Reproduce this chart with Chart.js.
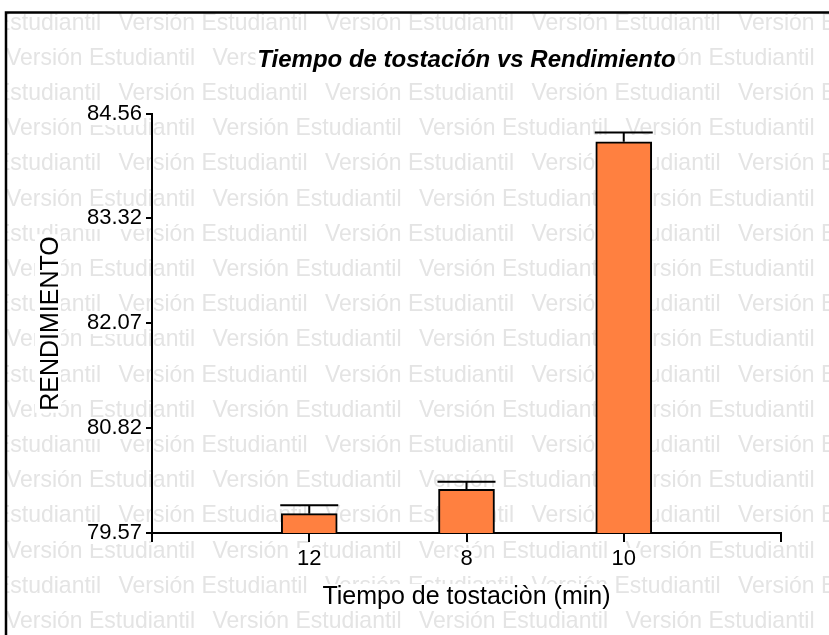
<!DOCTYPE html>
<html lang="es">
<head>
    <meta charset="UTF-8">
    <title>Tiempo de tostación vs Rendimiento</title>
    <script src="https://cdn.jsdelivr.net/npm/chart.js@4"></script>
    <style>
        html, body { margin: 0; padding: 0; background: #fff; }
        #wrap { width: 829px; height: 635px; position: relative; }
    </style>
</head>
<body>
    <div id="wrap"><canvas id="myChart"></canvas></div>

    <script>
        // data
        const tiempos = ['12', '8', '10'];
        const rendimiento = [79.80, 80.09, 84.23];
        const errores = [0.10, 0.09, 0.11];
        const yTicks = [79.57, 80.82, 82.07, 83.32, 84.56];

        const TITULO = 'Tiempo de tostación vs Rendimiento';
        const TITULO_X = 'Tiempo de tostaciòn (min)';
        const TITULO_Y = 'RENDIMIENTO';

        const FONT = "'Liberation Sans', Arial, sans-serif";

        // empty slot on each side so the bars sit like in the original plot
        const labels = [''].concat(tiempos, ['']);
        const values = [null].concat(rendimiento, [null]);
        const errs = [null].concat(errores, [null]);

        // grey watermark + outer frame + title
        const fondo = {
            id: 'fondo',
            beforeDraw(chart) {
                const ctx = chart.ctx;
                const area = chart.chartArea;
                const sx = chart.scales.x, sy = chart.scales.y;
                ctx.save();
                ctx.fillStyle = '#fff';
                ctx.fillRect(0, 0, chart.width, chart.height);
                ctx.fillStyle = 'rgb(228,228,228)';
                ctx.font = '24px ' + FONT;
                ctx.textBaseline = 'middle';
                ctx.textAlign = 'left';
                ctx.beginPath();
                ctx.rect(7, 13, chart.width, chart.height);
                ctx.clip();
                for (let i = 0; i < 19; i++) {
                    const y = 23 + i * 35.2;
                    const shift = i % 2 === 0 ? -88 : 6;
                    for (let k = 0; k < 6; k++) {
                        ctx.fillText('Versión Estudiantil', shift + k * 206.5, y, 189);
                    }
                }

                // white boxes behind every text, as in the original export
                ctx.fillStyle = '#fff';
                const caja = (cx, cy, w, h) => ctx.fillRect(cx - w / 2, cy - h / 2, w, h);
                ctx.font = 'italic bold 24px ' + FONT;
                caja((area.left + area.right) / 2, 60, ctx.measureText(TITULO).width + 4, 26);
                ctx.font = '25px ' + FONT;
                caja((area.left + area.right) / 2, 597, ctx.measureText(TITULO_X).width + 4, 26);
                caja(48, (area.top + area.bottom) / 2, 26, ctx.measureText(TITULO_Y).width + 4);
                ctx.font = '22px ' + FONT;
                yTicks.forEach(v => {
                    const w = ctx.measureText(v.toFixed(2)).width + 4;
                    caja(142 - w / 2 + 2, sy.getPixelForValue(v), w, 22);
                });
                labels.forEach((l, i) => {
                    if (!l) return;
                    caja(sx.getPixelForTick(i), 559, ctx.measureText(l).width + 4, 22);
                });
                ctx.restore();

                ctx.save();
                ctx.strokeStyle = '#000';
                ctx.lineWidth = 2.5;
                ctx.beginPath();
                ctx.moveTo(6, chart.height + 5);
                ctx.lineTo(6, 12.5);
                ctx.lineTo(chart.width + 5, 12.5);
                ctx.stroke();
                ctx.restore();
            },
            afterDraw(chart) {
                const ctx = chart.ctx;
                const area = chart.chartArea;
                ctx.save();
                ctx.fillStyle = '#000';
                ctx.font = 'italic bold 24px ' + FONT;
                ctx.textAlign = 'center';
                ctx.textBaseline = 'middle';
                ctx.fillText(TITULO, (area.left + area.right) / 2, 60);
                ctx.restore();
            }
        };

        // upper error bars
        const barrasError = {
            id: 'barrasError',
            afterDatasetsDraw(chart) {
                const ctx = chart.ctx;
                const meta = chart.getDatasetMeta(0);
                const y = chart.scales.y;
                ctx.save();
                ctx.strokeStyle = '#000';
                ctx.lineWidth = 2;
                meta.data.forEach((bar, i) => {
                    if (values[i] === null) return;
                    const top = y.getPixelForValue(values[i] + errs[i]);
                    const half = bar.width / 2 + 1;
                    ctx.beginPath();
                    ctx.moveTo(bar.x, bar.y);
                    ctx.lineTo(bar.x, top);
                    ctx.moveTo(bar.x - half, top);
                    ctx.lineTo(bar.x + half, top);
                    ctx.stroke();
                });
                ctx.restore();
            }
        };

        const ctx = document.getElementById('myChart').getContext('2d');
        new Chart(ctx, {
            type: 'bar',
            data: {
                labels: labels,
                datasets: [{
                    label: 'Rendimiento',
                    data: values,
                    backgroundColor: '#ff8040',
                    borderColor: '#000',
                    borderWidth: 2,
                    borderSkipped: 'bottom',
                    barThickness: 56
                }]
            },
            options: {
                responsive: true,
                maintainAspectRatio: false,
                animation: false,
                layout: { padding: { top: 114, right: 48, left: 0, bottom: 0 } },
                plugins: {
                    legend: { display: false },
                    tooltip: { enabled: false },
                    title: { display: false }
                },
                scales: {
                    x: {
                        offset: false,
                        grid: {
                            offset: false,
                            drawOnChartArea: false,
                            color: '#000',
                            tickColor: '#000',
                            tickLength: 9,
                            lineWidth: 2
                        },
                        border: { color: '#000', width: 2 },
                        ticks: {
                            color: '#000',
                            font: { family: FONT, size: 22 },
                            padding: 4,
                            maxRotation: 0,
                            autoSkip: false
                        },
                        title: {
                            display: true,
                            text: TITULO_X,
                            color: '#000',
                            font: { family: FONT, size: 25 },
                            padding: { top: 0, bottom: 23 }
                        },
                        afterFit(scale) { scale.height = 102; }
                    },
                    y: {
                        min: yTicks[0],
                        max: yTicks[yTicks.length - 1],
                        afterBuildTicks(scale) {
                            scale.ticks = yTicks.map(v => ({ value: v }));
                        },
                        grid: {
                            drawOnChartArea: false,
                            color: '#000',
                            tickColor: '#000',
                            tickLength: 6,
                            lineWidth: 2
                        },
                        border: { color: '#000', width: 2 },
                        ticks: {
                            color: '#000',
                            font: { family: FONT, size: 22 },
                            padding: 4,
                            callback: v => v.toFixed(2)
                        },
                        title: {
                            display: true,
                            text: TITULO_Y,
                            color: '#000',
                            font: { family: FONT, size: 25 },
                            padding: { top: 36, bottom: 0 }
                        },
                        afterFit(scale) { scale.width = 152; }
                    }
                }
            },
            plugins: [fondo, barrasError]
        });
    </script>
</body>
</html>
